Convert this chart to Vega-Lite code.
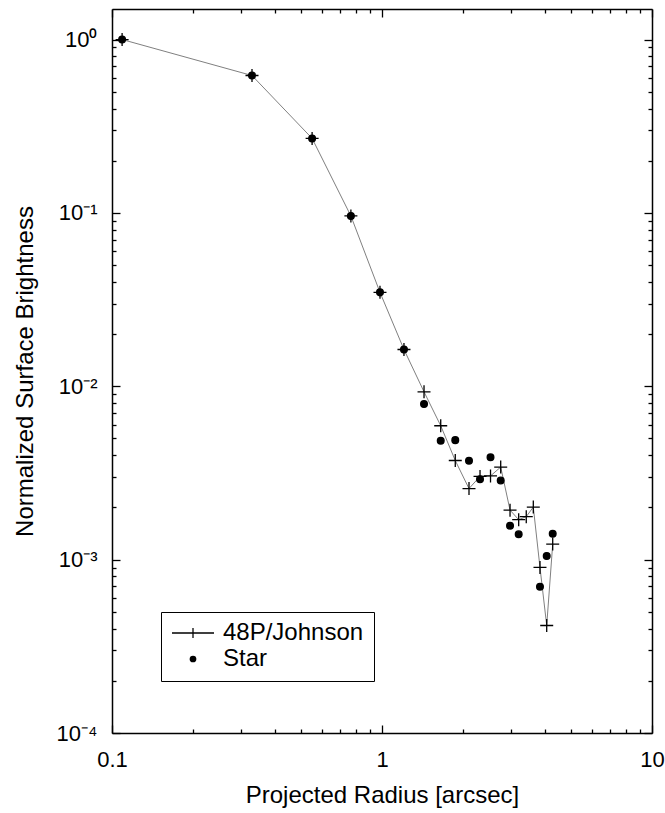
{
  "$schema": "https://vega.github.io/schema/vega-lite/v6.json",
  "width": 540,
  "height": 724,
  "autosize": {"type": "none"},
  "padding": {"left": 112, "top": 9, "right": 13, "bottom": 80},
  "background": "white",
  "config": {
    "font": "Liberation Sans",
    "view": {"stroke": null},
    "axis": {
      "domainColor": "black",
      "domainWidth": 1.5,
      "tickColor": "black",
      "tickWidth": 1.3,
      "labelColor": "black",
      "titleColor": "black",
      "labelFontSize": 22,
      "titleFontSize": 24,
      "titleFontWeight": "normal",
      "grid": false,
      "labelOverlap": false,
      "labelFlush": false
    },
    "legend": {
      "orient": "none",
      "legendX": 49,
      "legendY": 603,
      "padding": 10,
      "fillColor": "white",
      "strokeColor": "black",
      "labelFontSize": 24,
      "labelColor": "black",
      "clipHeight": 22,
      "rowPadding": 2,
      "labelOffset": 8,
      "symbolFillColor": "black",
      "symbolStrokeColor": "black",
      "symbolStrokeWidth": 1.3,
      "symbolOpacity": 1
    }
  },
  "data": {
    "values": [
      {"series": "48P/Johnson", "radius": 0.109, "brightness": 1.0},
      {"series": "48P/Johnson", "radius": 0.330, "brightness": 0.620},
      {"series": "48P/Johnson", "radius": 0.551, "brightness": 0.269},
      {"series": "48P/Johnson", "radius": 0.767, "brightness": 0.0960},
      {"series": "48P/Johnson", "radius": 0.983, "brightness": 0.0348},
      {"series": "48P/Johnson", "radius": 1.206, "brightness": 0.0163},
      {"series": "48P/Johnson", "radius": 1.431, "brightness": 0.00929},
      {"series": "48P/Johnson", "radius": 1.650, "brightness": 0.00592},
      {"series": "48P/Johnson", "radius": 1.868, "brightness": 0.00373},
      {"series": "48P/Johnson", "radius": 2.100, "brightness": 0.00257},
      {"series": "48P/Johnson", "radius": 2.307, "brightness": 0.00302},
      {"series": "48P/Johnson", "radius": 2.523, "brightness": 0.00304},
      {"series": "48P/Johnson", "radius": 2.752, "brightness": 0.00342},
      {"series": "48P/Johnson", "radius": 2.980, "brightness": 0.00193},
      {"series": "48P/Johnson", "radius": 3.208, "brightness": 0.00170},
      {"series": "48P/Johnson", "radius": 3.422, "brightness": 0.00177},
      {"series": "48P/Johnson", "radius": 3.634, "brightness": 0.00201},
      {"series": "48P/Johnson", "radius": 3.847, "brightness": 0.000902},
      {"series": "48P/Johnson", "radius": 4.074, "brightness": 0.000417},
      {"series": "48P/Johnson", "radius": 4.288, "brightness": 0.00123},
      {"series": "Star", "radius": 0.109, "brightness": 1.0},
      {"series": "Star", "radius": 0.330, "brightness": 0.620},
      {"series": "Star", "radius": 0.551, "brightness": 0.269},
      {"series": "Star", "radius": 0.767, "brightness": 0.0960},
      {"series": "Star", "radius": 0.983, "brightness": 0.0348},
      {"series": "Star", "radius": 1.206, "brightness": 0.0163},
      {"series": "Star", "radius": 1.431, "brightness": 0.00789},
      {"series": "Star", "radius": 1.650, "brightness": 0.00485},
      {"series": "Star", "radius": 1.868, "brightness": 0.00489},
      {"series": "Star", "radius": 2.100, "brightness": 0.00372},
      {"series": "Star", "radius": 2.307, "brightness": 0.00291},
      {"series": "Star", "radius": 2.523, "brightness": 0.00389},
      {"series": "Star", "radius": 2.752, "brightness": 0.00286},
      {"series": "Star", "radius": 2.980, "brightness": 0.00157},
      {"series": "Star", "radius": 3.208, "brightness": 0.00140},
      {"series": "Star", "radius": 3.847, "brightness": 0.000698},
      {"series": "Star", "radius": 4.074, "brightness": 0.00105},
      {"series": "Star", "radius": 4.288, "brightness": 0.00141}
    ]
  },
  "layer": [
    {
      "transform": [{"filter": "datum.series === '48P/Johnson'"}],
      "mark": {"type": "line", "color": "#808080", "strokeWidth": 1},
      "encoding": {
        "x": {
          "field": "radius",
          "type": "quantitative",
          "scale": {"type": "log", "domain": [0.1, 10], "nice": false},
          "axis": {
            "orient": "bottom",
            "values": [0.1, 0.2, 0.3, 0.4, 0.5, 0.6, 0.7, 0.8, 0.9, 1, 2, 3, 4, 5, 6, 7, 8, 9, 10],
            "labelExpr": "datum.value == 0.1 ? '0.1' : datum.value == 1 ? '1' : datum.value == 10 ? '10' : ''",
            "title": "Projected Radius [arcsec]",
            "tickSize": {"condition": {"test": "abs(log(datum.value)/LN10 - round(log(datum.value)/LN10)) < 0.001", "value": -8}, "value": -4},
            "labelPadding": 24,
            "titlePadding": 9
          }
        },
        "y": {
          "field": "brightness",
          "type": "quantitative",
          "scale": {"type": "log", "domain": [0.0001, 1.5], "nice": false},
          "axis": {
            "orient": "left",
            "values": [0.0001, 0.0002, 0.0003, 0.0004, 0.0005, 0.0006, 0.0007, 0.0008, 0.0009, 0.001, 0.002, 0.003, 0.004, 0.005, 0.006, 0.007, 0.008, 0.009, 0.01, 0.02, 0.03, 0.04, 0.05, 0.06, 0.07, 0.08, 0.09, 0.1, 0.2, 0.3, 0.4, 0.5, 0.6, 0.7, 0.8, 0.9, 1],
            "labelExpr": "datum.value == 1 ? '10⁰' : datum.value == 0.1 ? '10⁻¹' : datum.value == 0.01 ? '10⁻²' : datum.value == 0.001 ? '10⁻³' : datum.value == 0.0001 ? '10⁻⁴' : ''",
            "title": "Normalized Surface Brightness",
            "tickSize": {"condition": {"test": "abs(log(datum.value)/LN10 - round(log(datum.value)/LN10)) < 0.001", "value": -8}, "value": -4},
            "labelPadding": 23,
            "titlePadding": 19
          }
        }
      }
    },
    {
      "transform": [{"filter": "datum.series === '48P/Johnson'"}],
      "mark": {"type": "point", "shape": "M-1,0H1M0,-1V1", "filled": false, "stroke": "black", "strokeWidth": 1.3, "opacity": 1, "size": 169},
      "encoding": {
        "x": {
          "field": "radius",
          "type": "quantitative",
          "scale": {"type": "log", "domain": [0.1, 10], "nice": false},
          "axis": {
            "orient": "top",
            "values": [0.1, 0.2, 0.3, 0.4, 0.5, 0.6, 0.7, 0.8, 0.9, 1, 2, 3, 4, 5, 6, 7, 8, 9, 10],
            "labels": false,
            "title": null,
            "tickSize": {"condition": {"test": "abs(log(datum.value)/LN10 - round(log(datum.value)/LN10)) < 0.001", "value": -8}, "value": -4}
          }
        },
        "y": {
          "field": "brightness",
          "type": "quantitative",
          "scale": {"type": "log", "domain": [0.0001, 1.5], "nice": false},
          "axis": {
            "orient": "right",
            "values": [0.0001, 0.0002, 0.0003, 0.0004, 0.0005, 0.0006, 0.0007, 0.0008, 0.0009, 0.001, 0.002, 0.003, 0.004, 0.005, 0.006, 0.007, 0.008, 0.009, 0.01, 0.02, 0.03, 0.04, 0.05, 0.06, 0.07, 0.08, 0.09, 0.1, 0.2, 0.3, 0.4, 0.5, 0.6, 0.7, 0.8, 0.9, 1],
            "labels": false,
            "title": null,
            "tickSize": {"condition": {"test": "abs(log(datum.value)/LN10 - round(log(datum.value)/LN10)) < 0.001", "value": -8}, "value": -4}
          }
        }
      }
    },
    {
      "transform": [{"filter": "datum.series === 'Star'"}],
      "mark": {"type": "point", "filled": true, "fill": "black", "stroke": "black", "strokeWidth": 1.3, "opacity": 1},
      "encoding": {
        "x": {
          "field": "radius",
          "type": "quantitative",
          "scale": {"type": "log", "domain": [0.1, 10], "nice": false},
          "axis": null
        },
        "y": {
          "field": "brightness",
          "type": "quantitative",
          "scale": {"type": "log", "domain": [0.0001, 1.5], "nice": false},
          "axis": null
        },
        "shape": {
          "field": "series",
          "type": "nominal",
          "scale": {"domain": ["48P/Johnson", "Star"], "range": ["M-1,-0.03H1V0.03H-1ZM-0.03,-0.24H0.03V0.24H-0.03Z", "circle"]},
          "legend": {"title": null}
        },
        "size": {
          "field": "series",
          "type": "nominal",
          "scale": {"type": "point", "padding": 0, "domain": ["48P/Johnson", "Star"], "range": [1764, 45]},
          "legend": {"title": null}
        }
      }
    }
  ],
  "resolve": {"axis": {"x": "independent", "y": "independent"}}
}
